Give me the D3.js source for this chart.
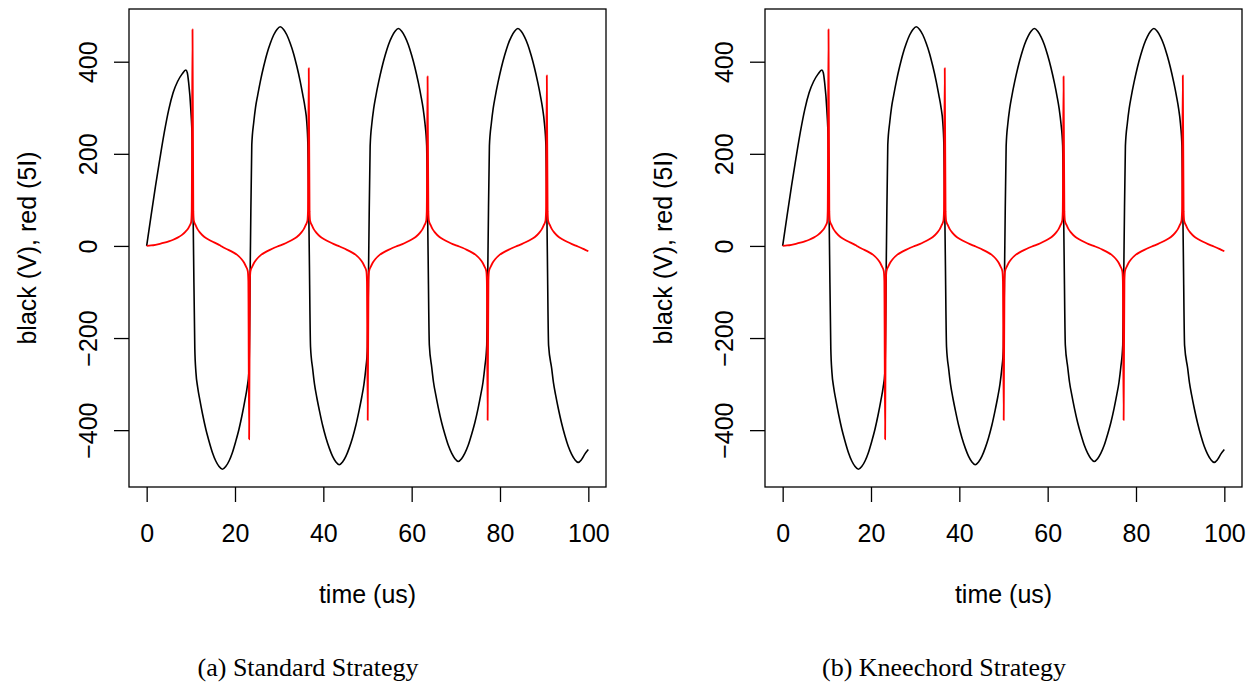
<!DOCTYPE html>
<html>
<head>
<meta charset="utf-8">
<script src="https://cdn.jsdelivr.net/npm/d3@7"></script>
<style>
  html, body { margin: 0; padding: 0; background: #fff; }
  svg { display: block; }
  text { font-family: "Liberation Sans", Arial, Helvetica, sans-serif; fill: #000; }
  .cap { font-family: "Liberation Serif", "Times New Roman", serif; }
</style>
</head>
<body>
<svg id="chart" width="1251" height="683"></svg>
<script>
// ---- data: [time (us), value] ----
const blackPts = [
  [0,0],[1,66],[2,130],[3,190],[4,247],[5,296],[6,333],[7,357],[8,373],[8.87,382],
  [9.2,376],[9.5,355],[10.0,296],[10.3,229],
  [10.6,0],
  [10.9,-223],[11.15,-274],[11.55,-307],[12.05,-335],[12.65,-365],[13.4,-398],[14.15,-425],[14.9,-449],[15.65,-467],[16.4,-479],
  [17.15,-485],[17.9,-479],[18.65,-467],[19.4,-449],[20.15,-425],[20.9,-398],[21.65,-365],[22.25,-335],[22.75,-307],[23.15,-274],
  [23.5,0],
  [23.8,219],[24.25,269],[24.65,301],[25.15,328],[25.75,358],[26.5,390],[27.25,418],[28.0,440],[28.75,458],[29.5,470],
  [30.25,476],[31.0,470],[31.75,458],[32.5,440],[33.25,418],[34.0,390],[34.75,358],[35.35,328],[35.85,301],[36.25,269],[36.5,219],
  [36.8,0],
  [37.1,-219],[37.6,-268],[38.0,-300],[38.5,-328],[39.1,-357],[39.85,-390],[40.6,-417],[41.35,-439],[42.1,-457],[42.85,-469],
  [43.6,-475],[44.35,-469],[45.1,-457],[45.85,-439],[46.6,-417],[47.35,-390],[48.1,-357],[48.7,-328],[49.2,-300],[49.6,-268],[50.0,-219],
  [50.3,0],
  [50.6,217],[51.0,267],[51.4,298],[51.9,326],[52.5,355],[53.25,387],[54.0,414],[54.75,437],[55.5,454],[56.25,466],
  [57.0,472],[57.75,466],[58.5,454],[59.25,437],[60.0,414],[60.75,387],[61.5,355],[62.1,326],[62.6,298],[63.0,267],[63.4,217],
  [63.7,0],
  [64.0,-215],[64.55,-264],[64.95,-296],[65.45,-323],[66.05,-352],[66.8,-384],[67.55,-410],[68.3,-433],[69.05,-450],[69.8,-462],
  [70.55,-468],[71.3,-462],[72.05,-450],[72.8,-433],[73.55,-410],[74.3,-384],[75.05,-352],[75.65,-323],[76.15,-296],[76.55,-264],[77.0,-215],
  [77.3,0],
  [77.6,217],[78.05,267],[78.45,298],[78.95,326],[79.55,355],[80.3,387],[81.05,414],[81.8,437],[82.55,454],[83.3,466],
  [84.05,472],[84.8,466],[85.55,454],[86.3,437],[87.05,414],[87.8,387],[88.55,355],[89.15,326],[89.65,298],[90.05,267],[90.4,217],
  [90.7,0],
  [91.0,-216],[91.7,-266],[92.1,-297],[92.6,-324],[93.2,-353],[93.95,-385],[94.7,-412],[95.45,-435],[96.2,-452],[96.95,-464],
  [97.7,-470],[98.45,-464],[99.2,-452],[100,-442]
];

const redPts = [
  [0,0],[1,1],[2,2.5],[3,4.5],[4,7],[5,10],[6,13.5],[7,18],[8,24],[8.8,31],[9.4,38],[9.8,45],[10.08,52],[10.2,75],
  [10.38,470],
  [10.56,75],[10.68,55],[11.08,45],[11.48,37],[12.08,29],[13.08,19.5],[14.08,13.5],[15.08,8.5],[16.08,4],[16.79,0],
  [17.5,-4],[18.5,-8.5],[19.5,-13.5],[20.5,-19.5],[21.5,-29],[22.1,-37],[22.5,-45],[22.9,-55],[23.02,-75],
  [23.2,-420],
  [23.38,-75],[23.5,-55],[23.9,-45],[24.3,-37],[24.9,-29],[25.9,-19.5],[26.9,-13.5],[27.9,-8.5],[28.9,-4],[29.95,0],
  [31.0,4],[32.0,8.5],[33.0,13.5],[34.0,19.5],[35.0,29],[35.6,37],[36.0,45],[36.4,55],[36.52,75],
  [36.7,386],
  [36.88,75],[37.0,55],[37.4,45],[37.8,37],[38.4,29],[39.4,19.5],[40.4,13.5],[41.4,8.5],[42.4,4],[43.375,0],
  [44.35,-4],[45.35,-8.5],[46.35,-13.5],[47.35,-19.5],[48.35,-29],[48.95,-37],[49.35,-45],[49.75,-55],[49.87,-75],
  [50.05,-378],
  [50.23,-75],[50.35,-55],[50.75,-45],[51.15,-37],[51.75,-29],[52.75,-19.5],[53.75,-13.5],[54.75,-8.5],[55.75,-4],[56.825,0],
  [57.9,4],[58.9,8.5],[59.9,13.5],[60.9,19.5],[61.9,29],[62.5,37],[62.9,45],[63.3,55],[63.42,75],
  [63.6,368],
  [63.78,75],[63.9,55],[64.3,45],[64.7,37],[65.3,29],[66.3,19.5],[67.3,13.5],[68.3,8.5],[69.3,4],[70.4,0],
  [71.5,-4],[72.5,-8.5],[73.5,-13.5],[74.5,-19.5],[75.5,-29],[76.1,-37],[76.5,-45],[76.9,-55],[77.02,-75],
  [77.2,-378],
  [77.38,-75],[77.5,-55],[77.9,-45],[78.3,-37],[78.9,-29],[79.9,-19.5],[80.9,-13.5],[81.9,-8.5],[82.9,-4],[83.9,0],
  [84.9,4],[85.9,8.5],[86.9,13.5],[87.9,19.5],[88.9,29],[89.5,37],[89.9,45],[90.3,55],[90.42,75],
  [90.6,370],
  [90.78,75],[90.9,55],[91.3,45],[91.7,37],[92.3,29],[93.3,19.5],[94.3,13.5],[95.3,8.5],[96.3,4],[97.3,0],
  [98.3,-4],[99.3,-8.5],[100,-11.5]
];

const xTicks = [0,20,40,60,80,100];
const yTicks = [-400,-200,0,200,400];
const xTitle = "time (us)";
const yTitle = "black (V), red (5I)";
const captions = ["(a) Standard Strategy", "(b) Kneechord Strategy"];

// ---- drawing ----
const svg = d3.select("#chart");
svg.append("rect").attr("width",1251).attr("height",683).attr("fill","#fff");

const black = blackPts.map(([t,v])=>({t,v}));
const red = redPts.map(([t,v])=>({t,v}));

// R-style 4% axis padding
function padded(ext){ const r = ext[1]-ext[0]; return [ext[0]-0.04*r, ext[1]+0.04*r]; }
const xDom = padded([0,100]);
const yDom = padded(d3.extent(black.concat(red), d=>d.v));

function panel(off, caption, capX){
  const L = 129+off, R = 606+off, T = 9, B = 487;
  const x = d3.scaleLinear().domain(xDom).range([L,R]);
  const y = d3.scaleLinear().domain(yDom).range([B,T]);
  const g = svg.append("g");

  const line = d3.line().x(d=>x(d.t)).y(d=>y(d.v)).curve(d3.curveMonotoneX);
  g.append("path").datum(black).attr("d",line)
    .attr("fill","none").attr("stroke","#000").attr("stroke-width",1.6).attr("stroke-linejoin","round");
  g.append("path").datum(red).attr("d",line)
    .attr("fill","none").attr("stroke","#ff0000").attr("stroke-width",1.8).attr("stroke-linejoin","round");

  g.append("rect").attr("x",L).attr("y",T).attr("width",R-L).attr("height",B-T)
    .attr("fill","none").attr("stroke","#000").attr("stroke-width",1.3);

  // x axis
  const xa = g.append("g").attr("transform",`translate(0,${B})`)
    .call(d3.axisBottom(x).tickValues(xTicks).tickSize(15).tickPadding(22).tickFormat(d3.format("d")));
  xa.select(".domain").remove();
  xa.selectAll(".tick line").attr("stroke","#000").attr("stroke-width",1.3);
  xa.selectAll(".tick text").attr("font-size",25).attr("font-family","Liberation Sans, Arial, sans-serif").attr("fill","#000");

  // y axis
  const ya = g.append("g").attr("transform",`translate(${L},0)`)
    .call(d3.axisLeft(y).tickValues(yTicks).tickSize(15).tickFormat(d=> d<0 ? "\u2212"+Math.abs(d) : String(d)));
  ya.select(".domain").remove();
  ya.selectAll(".tick line").attr("stroke","#000").attr("stroke-width",1.3);
  ya.selectAll(".tick text")
    .attr("x",null).attr("dy",null).attr("y",null)
    .attr("text-anchor","middle")
    .attr("transform","translate(-32,0) rotate(-90)")
    .attr("font-size",25).attr("font-family","Liberation Sans, Arial, sans-serif").attr("fill","#000");

  g.append("text").attr("x",(L+R)/2).attr("y",603).attr("text-anchor","middle")
    .attr("font-size",25).text(xTitle);
  g.append("text").attr("transform",`translate(${36+off},${(T+B)/2}) rotate(-90)`)
    .attr("text-anchor","middle").attr("font-size",25).text(yTitle);
  g.append("text").attr("class","cap").attr("x",capX).attr("y",676).attr("text-anchor","middle")
    .attr("font-size",26).text(caption);
}

panel(0, captions[0], 308);
panel(636, captions[1], 944);
</script>
</body>
</html>
